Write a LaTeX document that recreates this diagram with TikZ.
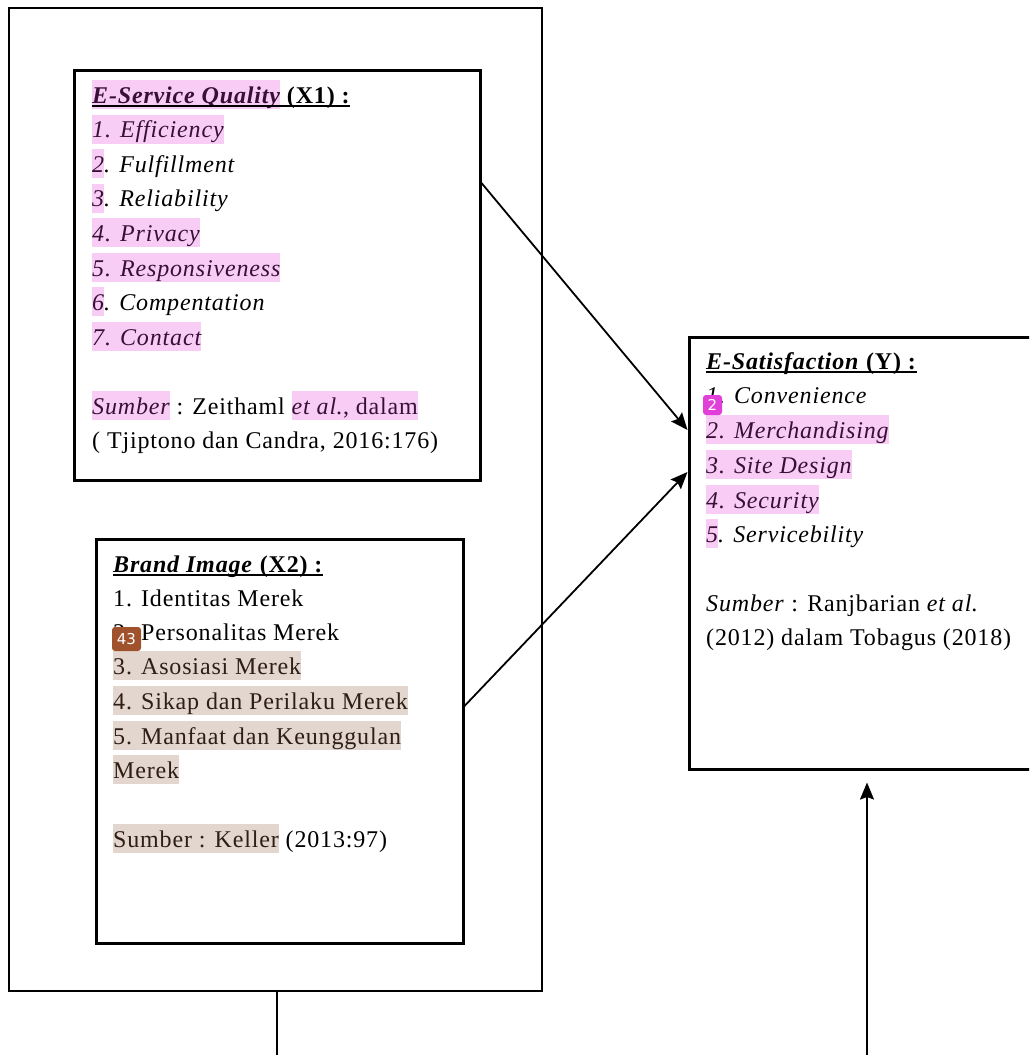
\documentclass[tikz,border=0pt]{standalone}
\usepackage{fontspec}
\setmainfont{Liberation Serif}[LetterSpace=3.5]
\newfontfamily\badgefont{DejaVu Sans}
\usetikzlibrary{arrows.meta}
\definecolor{hlpink}{RGB}{248,204,245}
\definecolor{hlbrown}{RGB}{227,214,206}
\definecolor{hltextp}{RGB}{55,15,55}
\definecolor{hltextb}{RGB}{45,30,22}
\definecolor{badgepink}{RGB}{224,64,216}
\definecolor{badgebrown}{RGB}{160,82,45}
\newcommand\hlp[1]{{\setlength{\fboxsep}{0pt}\colorbox{hlpink}{\rule[-6pt]{0pt}{29pt}\color{hltextp}#1}}}
\newcommand\hlb[1]{{\setlength{\fboxsep}{0pt}\colorbox{hlbrown}{\rule[-6pt]{0pt}{29pt}\color{hltextb}#1}}}
\newsavebox\ulbox
\newcommand\ulthick[1]{\sbox\ulbox{#1}\usebox\ulbox\llap{\rule[-3.5pt]{\wd\ulbox}{2pt}}}
\begin{document}
\begin{tikzpicture}[x=1pt,y=-1pt,
  box/.style={draw, line width=3pt, inner sep=0pt},
  thinbox/.style={draw, line width=1.3pt, inner sep=0pt},
  txt/.style={anchor=base west, inner sep=0pt, font=\fontsize{24}{34.5}\selectfont},
  arr/.style={line width=1.8pt, -{Stealth[length=17pt,width=14pt,inset=2.5pt]}},
  badge/.style={rounded corners=3pt, inner sep=0pt, text=white, font=\badgefont\fontsize{15}{15}\selectfont}]
\useasboundingbox (0,0) rectangle (1029,1055);
\clip (0,0) rectangle (1029,1055);

% boxes
\node[thinbox, minimum width=533pt, minimum height=983pt] (outer) at (275.5,499.5) {};
\node[box, minimum width=406pt, minimum height=410pt] (x1) at (277,275) {};
\node[box, minimum width=367pt, minimum height=404pt] (x2) at (279.5,741) {};
\node[box, minimum width=351pt, minimum height=432pt] (y) at (864.5,553) {};

% X1 text
\node[txt] (x1t) at (92,103) {\ulthick{\hlp{\bfseries\itshape E-Service Quality}\textbf{ (X1) :}}};
\node[txt] (x1a) at (92,137.5) {\hlp{\itshape 1. Efficiency}};
\node[txt] (x1b) at (92,172) {\hlp{\itshape 2}\textit{. Fulfillment}};
\node[txt] (x1c) at (92,206.5) {\hlp{\itshape 3}\textit{. Reliability}};
\node[txt] (x1d) at (92,241) {\hlp{\itshape 4. Privacy}};
\node[txt] (x1e) at (92,276) {\hlp{\itshape 5. Responsiveness}};
\node[txt] (x1f) at (92,310) {\hlp{\itshape 6}\textit{. Compentation}};
\node[txt] (x1g) at (92,345) {\hlp{\itshape 7. Contact}};
\node[txt] (x1s) at (92,414) {\hlp{\itshape Sumber} : Zeithaml \hlp{\textit{et al}., dalam}};
\node[txt] (x1r) at (92,448) {( Tjiptono dan Candra, 2016:176)};

% X2 text
\node[txt] (x2t) at (113,572) {\ulthick{\textbf{\textit{Brand Image} (X2) :}}};
\node[txt] (x2a) at (113,606) {1. Identitas Merek};
\node[txt] (x2b) at (113,640) {2. Personalitas Merek};
\node[txt] (x2c) at (113,674) {\hlb{3. Asosiasi Merek}};
\node[txt] (x2d) at (113,709) {\hlb{4. Sikap dan Perilaku Merek}};
\node[txt] (x2e) at (113,744) {\hlb{5. Manfaat dan Keunggulan}};
\node[txt] (x2f) at (113,778) {\hlb{Merek}};
\node[txt] (x2s) at (113,847) {\hlb{Sumber : Keller} (2013:97)};

% Y text
\node[txt] (yt) at (706,369) {\ulthick{\textbf{\textit{E-Satisfaction} (Y) :}}};
\node[txt] (ya) at (706,403) {\textit{1. Convenience}};
\node[txt] (yb) at (706,438) {\hlp{\itshape 2. Merchandising}};
\node[txt] (yc) at (706,473) {\hlp{\itshape 3. Site Design}};
\node[txt] (yd) at (706,508) {\hlp{\itshape 4. Security}};
\node[txt] (ye) at (706,542) {\hlp{\itshape 5}\textit{. Servicebility}};
\node[txt] (ys) at (706,611) {\textit{Sumber} : Ranjbarian \textit{et al}.};
\node[txt] (yr) at (706,645) {(2012) dalam Tobagus (2018)};

% badges
\node[badge, fill=badgepink, minimum width=19pt, minimum height=20pt] (b2) at (712.5,405) {2};
\node[badge, fill=badgebrown, minimum width=29pt, minimum height=24pt] (b43) at (126.5,639) {43};

% connectors
\coordinate (r183) at (0,183);
\coordinate (r430) at (0,430);
\coordinate (r706) at (0,706);
\coordinate (r472) at (0,472);
\coordinate (e1) at (277,1060);
\coordinate (e2) at (867,1060);
\draw[arr] (x1.east |- r183) -- (y.west |- r430);
\draw[arr] (x2.east |- r706) -- (y.west |- r472);
\draw[line width=1.3pt] (outer.south -| e1) -- (e1);
\draw[arr, shorten >=12pt] (e2) -- (y.south -| e2);
\end{tikzpicture}
\end{document}
